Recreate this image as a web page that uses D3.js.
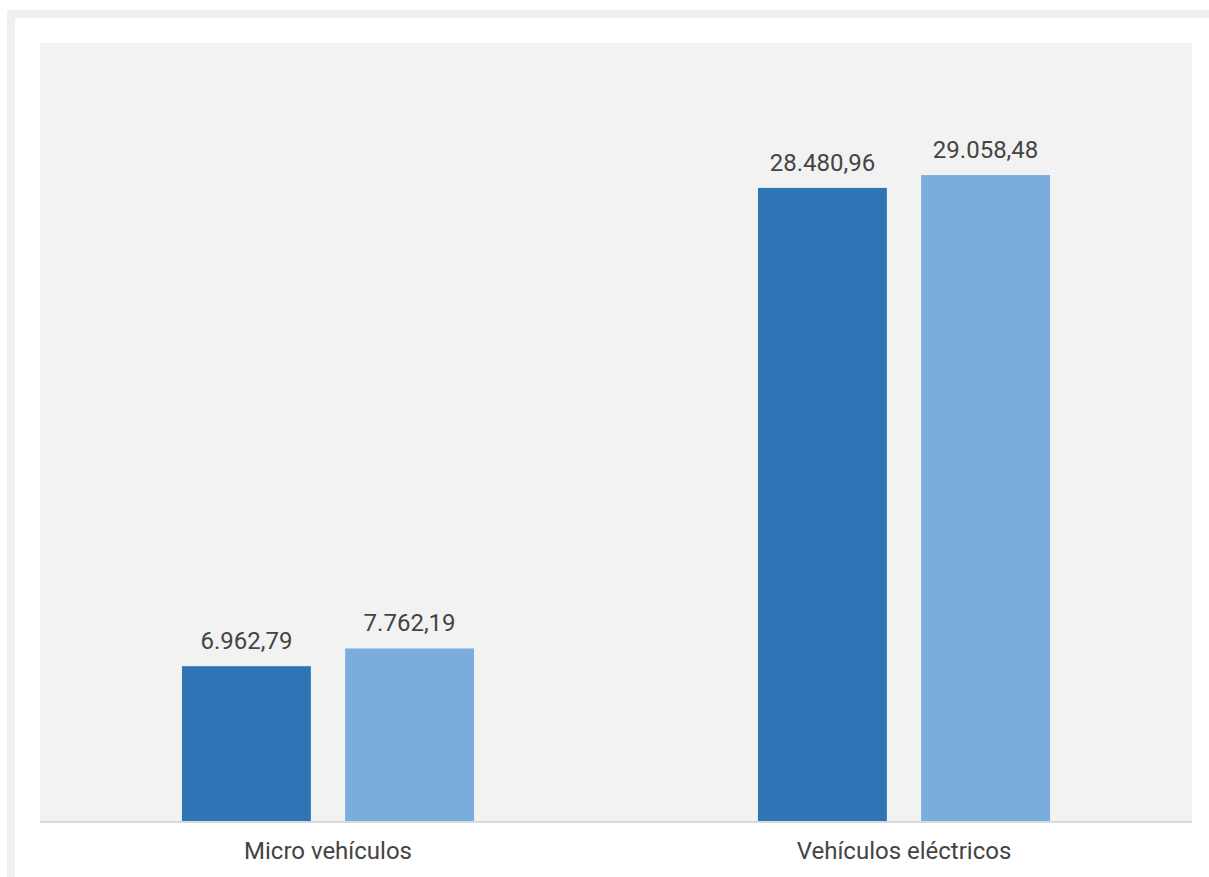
<!DOCTYPE html>
<html>
<head>
<meta charset="utf-8">
<script src="https://cdn.jsdelivr.net/npm/d3@7"></script>
<style>
  body { margin: 0; background: #ffffff; }
  svg { display: block; font-family: Roboto, "Noto Sans", sans-serif; }
</style>
</head>
<body>
<svg id="chart" width="1209" height="877"></svg>
<script>
const categories = ["Micro vehículos", "Vehículos eléctricos"];
const seriesKeys = ["s1", "s2"];
const seriesA = [6962.79, 28480.96];
const seriesB = [7762.19, 29058.48];
const yMax = 35000;

const colors = { s1: "#2e75b6", s2: "#7aaddc" };

const data = categories.map((c, i) => ({ cat: c, s1: seriesA[i], s2: seriesB[i] }));

const fmt = v => {
    const [int, dec] = v.toFixed(2).split(".");
    return int.replace(/\B(?=(\d{3})+(?!\d))/g, ".") + "," + dec;
};

const svg = d3.select("#chart");
const plot = { left: 40, right: 1192, top: 43, bottom: 821 };

// Outer frame
svg.append("rect")
    .attr("x", 11).attr("y", 14)
    .attr("width", 1220).attr("height", 900)
    .attr("fill", "#ffffff")
    .attr("stroke", "#f0f0f0")
    .attr("stroke-width", 8);

// Plot background
svg.append("rect")
    .attr("x", plot.left).attr("y", plot.top)
    .attr("width", plot.right - plot.left).attr("height", plot.bottom - plot.top)
    .attr("fill", "#f2f2f2");

const x0 = d3.scaleBand()
    .domain(categories)
    .range([plot.left, plot.right])
    .padding(0);

const x1 = d3.scaleBand()
    .domain(seriesKeys)
    .range([0, x0.bandwidth()])
    .paddingInner(0.21)
    .paddingOuter(0.87);

const y = d3.scaleLinear()
    .domain([0, yMax])
    .range([plot.bottom, plot.top]);

const groups = svg.append("g")
    .selectAll("g")
    .data(data)
    .join("g")
    .attr("transform", d => `translate(${x0(d.cat)},0)`);

groups.selectAll("rect")
    .data(d => seriesKeys.map(k => ({ key: k, value: d[k] })))
    .join("rect")
    .attr("x", d => x1(d.key))
    .attr("y", d => y(d.value))
    .attr("width", x1.bandwidth())
    .attr("height", d => y(0) - y(d.value))
    .attr("fill", d => colors[d.key]);

groups.selectAll("text")
    .data(d => seriesKeys.map(k => ({ key: k, value: d[k] })))
    .join("text")
    .attr("x", d => x1(d.key) + x1.bandwidth() / 2)
    .attr("y", d => y(d.value) - 17)
    .attr("text-anchor", "middle")
    .attr("font-size", 24)
    .attr("fill", "#444444")
    .text(d => fmt(d.value));

// Baseline
svg.append("line")
    .attr("x1", plot.left).attr("x2", plot.right)
    .attr("y1", y(0) + 1).attr("y2", y(0) + 1)
    .attr("stroke", "#d9d9d9")
    .attr("stroke-width", 2);

// Category labels
const xAxis = d3.axisBottom(x0).tickSize(0).tickPadding(0);
svg.append("g")
    .attr("transform", `translate(0,${plot.bottom})`)
    .call(xAxis)
    .call(g => g.select(".domain").remove())
    .selectAll("text")
    .attr("dy", null)
    .attr("y", 38)
    .attr("font-size", 24)
    .attr("font-family", "Roboto, 'Noto Sans', sans-serif")
    .attr("fill", "#444444");
</script>
</body>
</html>
